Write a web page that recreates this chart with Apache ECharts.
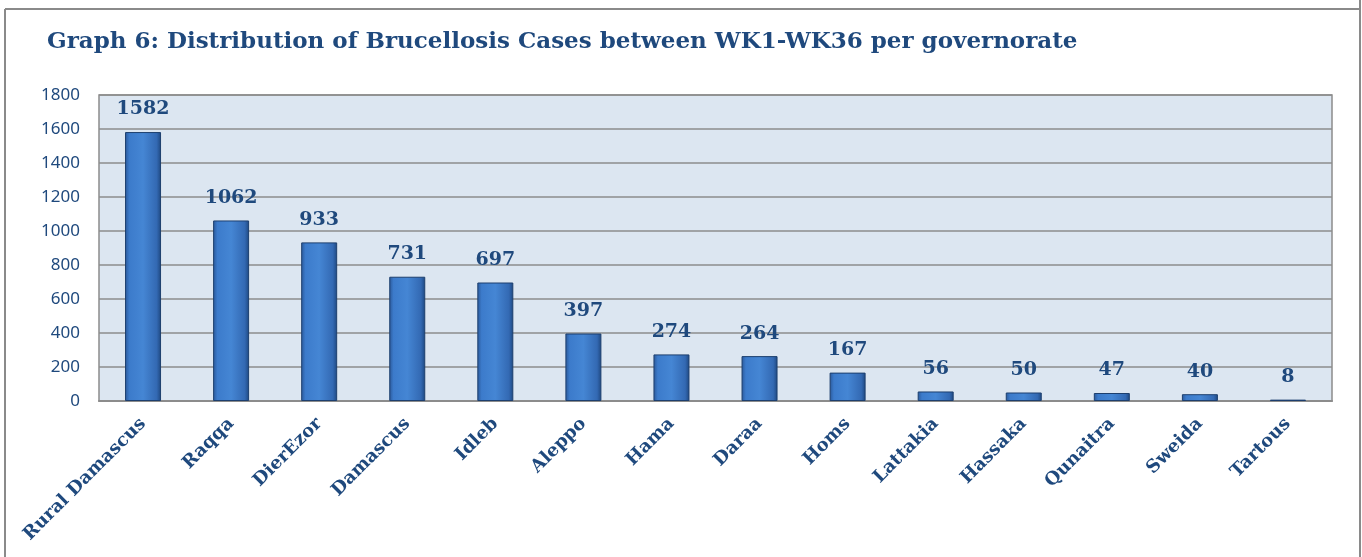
<!DOCTYPE html>
<html><head><meta charset="utf-8">
<script src="https://cdn.jsdelivr.net/npm/echarts@6/dist/echarts.min.js"></script>
<style>html,body{margin:0;padding:0;background:#fff;}#c{width:1362px;height:557px;}</style>
</head><body><div id="c"></div>
<script>
const titleText = 'Graph 6: Distribution of Brucellosis Cases between WK1-WK36 per governorate';
const categories = ['Rural Damascus','Raqqa','DierEzor','Damascus','Idleb','Aleppo','Hama','Daraa','Homs','Lattakia','Hassaka','Qunaitra','Sweida','Tartous'];
const cases = [1582,1062,933,731,697,397,274,264,167,56,50,47,40,8];
const yTicks = {min:0, max:1800, interval:200};

const chart = echarts.init(document.getElementById('c'));
const blue = '#1F497D';
chart.setOption({
  backgroundColor:'#ffffff',
  animation:false,
  title:{text:titleText,left:42,top:26,textStyle:{fontFamily:'DejaVu Serif',fontWeight:'bold',fontSize:23,color:blue}},
  graphic:[
    {type:'line',shape:{x1:5,y1:9,x2:1360,y2:9},style:{stroke:'#8a8a8a',lineWidth:2}},
    {type:'line',shape:{x1:5,y1:9,x2:5,y2:557},style:{stroke:'#8a8a8a',lineWidth:2}},
    {type:'line',shape:{x1:1360,y1:0,x2:1360,y2:557},style:{stroke:'#8a8a8a',lineWidth:2}}
  ],
  grid:{left:99,top:95,right:30,bottom:156,show:true,backgroundColor:'#DCE6F1',borderColor:'#8c8c8c',borderWidth:1.5},
  xAxis:{type:'category',data:categories,
    axisLine:{lineStyle:{color:'#8c8c8c',width:2}},axisTick:{show:false},
    axisLabel:{rotate:45,interval:0,margin:20,fontFamily:'DejaVu Serif',fontWeight:'bold',fontSize:18,color:blue}},
  yAxis:{type:'value',min:yTicks.min,max:yTicks.max,interval:yTicks.interval,
    axisLine:{show:false},axisTick:{show:false},
    axisLabel:{margin:19,fontFamily:'Noto Sans',fontSize:17,color:blue,formatter:v=>String(v)},
    splitLine:{lineStyle:{color:'#8c8c8c',width:1.5}}},
  series:[{type:'bar',data:cases,barWidth:36,
    itemStyle:{borderColor:'#1d3f6e',borderWidth:1,
      color:new echarts.graphic.LinearGradient(0,0,1,0,[
        {offset:0,color:'#2a5899'},{offset:0.12,color:'#3c7bcb'},{offset:0.5,color:'#4586d4'},
        {offset:0.88,color:'#3369b3'},{offset:1,color:'#1e477f'}])},
    label:{show:true,position:'top',distance:13,fontFamily:'DejaVu Serif',fontWeight:'bold',fontSize:19,color:blue}
  }]
});
</script></body></html>
